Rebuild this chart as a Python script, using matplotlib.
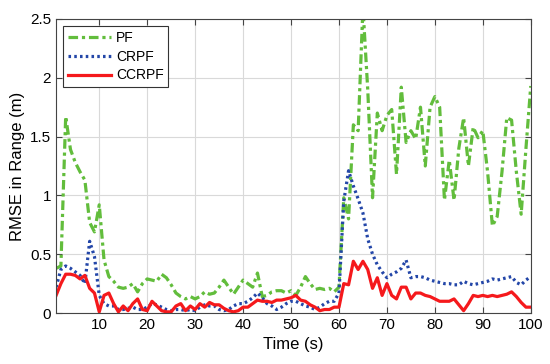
import matplotlib
matplotlib.use('Agg')
import matplotlib.pyplot as plt
import numpy as np

plt.rcParams['font.family'] = ['Liberation Sans', 'DejaVu Sans']

t = np.arange(1, 101)

pf = [0.38, 0.40, 1.67, 1.39, 1.28, 1.20, 1.13, 0.77, 0.69, 0.92,
      0.45, 0.31, 0.27, 0.22, 0.21, 0.22, 0.25, 0.18, 0.25, 0.29,
      0.28, 0.27, 0.33, 0.30, 0.24, 0.17, 0.14, 0.12, 0.14, 0.12,
      0.14, 0.18, 0.16, 0.17, 0.22, 0.28, 0.22, 0.16, 0.22, 0.28,
      0.25, 0.22, 0.34, 0.14, 0.15, 0.18, 0.19, 0.19, 0.17, 0.19,
      0.15, 0.22, 0.31, 0.25, 0.20, 0.21, 0.20, 0.21, 0.18, 0.22,
      0.98, 0.80, 1.60, 1.55, 2.60, 1.90, 0.98, 1.70, 1.55, 1.68,
      1.73, 1.18, 1.92, 1.45, 1.55, 1.48, 1.75, 1.25, 1.75, 1.84,
      1.75, 0.96, 1.30, 0.96, 1.40, 1.66, 1.25, 1.58, 1.49, 1.55,
      1.20, 0.74, 0.82, 1.20, 1.66, 1.64, 1.20, 0.84, 1.40, 1.93]

crpf = [0.22, 0.37, 0.40, 0.38, 0.35, 0.32, 0.25, 0.61, 0.48, 0.15,
        0.08, 0.06, 0.06, 0.03, 0.03, 0.04, 0.05, 0.03, 0.03, 0.05,
        0.08, 0.07, 0.05, 0.03, 0.02, 0.03, 0.03, 0.02, 0.03, 0.02,
        0.05, 0.07, 0.06, 0.06, 0.03, 0.02, 0.03, 0.06, 0.08, 0.08,
        0.10, 0.13, 0.17, 0.13, 0.08, 0.06, 0.03, 0.05, 0.08, 0.10,
        0.10, 0.08, 0.06, 0.05, 0.03, 0.05, 0.08, 0.10, 0.10, 0.17,
        0.95, 1.21, 1.08, 0.97, 0.85, 0.63, 0.50, 0.41, 0.35, 0.30,
        0.33, 0.35, 0.38, 0.45, 0.30, 0.31, 0.31, 0.30, 0.28, 0.27,
        0.26, 0.25, 0.25, 0.24, 0.24, 0.27, 0.25, 0.24, 0.25, 0.26,
        0.27, 0.29, 0.28, 0.29, 0.30, 0.31, 0.26, 0.24, 0.28, 0.31]

ccrpf = [0.15, 0.25, 0.33, 0.33, 0.32, 0.29, 0.32, 0.21, 0.17, 0.01,
         0.15, 0.17, 0.08, 0.01, 0.06, 0.02, 0.08, 0.12, 0.03, 0.02,
         0.10, 0.06, 0.02, 0.01, 0.01, 0.06, 0.08, 0.02, 0.06, 0.03,
         0.08, 0.05, 0.09, 0.07, 0.07, 0.04, 0.02, 0.01, 0.02, 0.05,
         0.05, 0.08, 0.11, 0.10, 0.10, 0.09, 0.11, 0.11, 0.12, 0.13,
         0.15, 0.11, 0.10, 0.07, 0.05, 0.02, 0.03, 0.03, 0.05, 0.05,
         0.25, 0.24, 0.44, 0.37, 0.44, 0.37, 0.21, 0.30, 0.15, 0.25,
         0.15, 0.12, 0.22, 0.22, 0.12, 0.17, 0.17, 0.15, 0.14, 0.12,
         0.10, 0.10, 0.10, 0.12, 0.07, 0.02, 0.08, 0.15, 0.14, 0.15,
         0.14, 0.15, 0.14, 0.15, 0.16, 0.18, 0.14, 0.09, 0.05, 0.05]

fig = plt.figure(figsize=(5.5, 3.64), dpi=100)
ax = fig.add_axes([0.102, 0.140, 0.863, 0.808])

ax.plot(t, pf, color='#62bd3c', linestyle=(0, (3, 1.2, 1, 1.2)), linewidth=2.3, label='PF')
ax.plot(t, crpf, color='#2346a8', linestyle=(0, (0.8, 1)), linewidth=2.3, label='CRPF')
ax.plot(t, ccrpf, color='#f5191c', linestyle='-', linewidth=2.3, label='CCRPF')

ax.set_xlim(1, 100)
ax.set_ylim(0, 2.5)
ax.set_xticks(range(10, 101, 10))
ax.set_yticks([0, 0.5, 1, 1.5, 2, 2.5])
ax.set_yticklabels(['0', '0.5', '1', '1.5', '2', '2.5'])
ax.grid(True, color='#d9d9d9', linewidth=0.8)
ax.set_axisbelow(True)
ax.tick_params(direction='in', top=True, right=True, labelsize=11, length=4,
               color='#444444')
for s in ax.spines.values():
    s.set_color('#444444')
ax.set_xlabel('Time (s)', fontsize=12)
ax.set_ylabel('RMSE in Range (m)', fontsize=12)

leg = ax.legend(loc='upper left', fontsize=10, fancybox=False, framealpha=1,
                edgecolor='#333333', handlelength=3.1, borderaxespad=0.5,
                labelspacing=0.35, borderpad=0.35, handletextpad=0.35)
leg.get_frame().set_linewidth(0.8)

fig.savefig('out.png', dpi=100)
